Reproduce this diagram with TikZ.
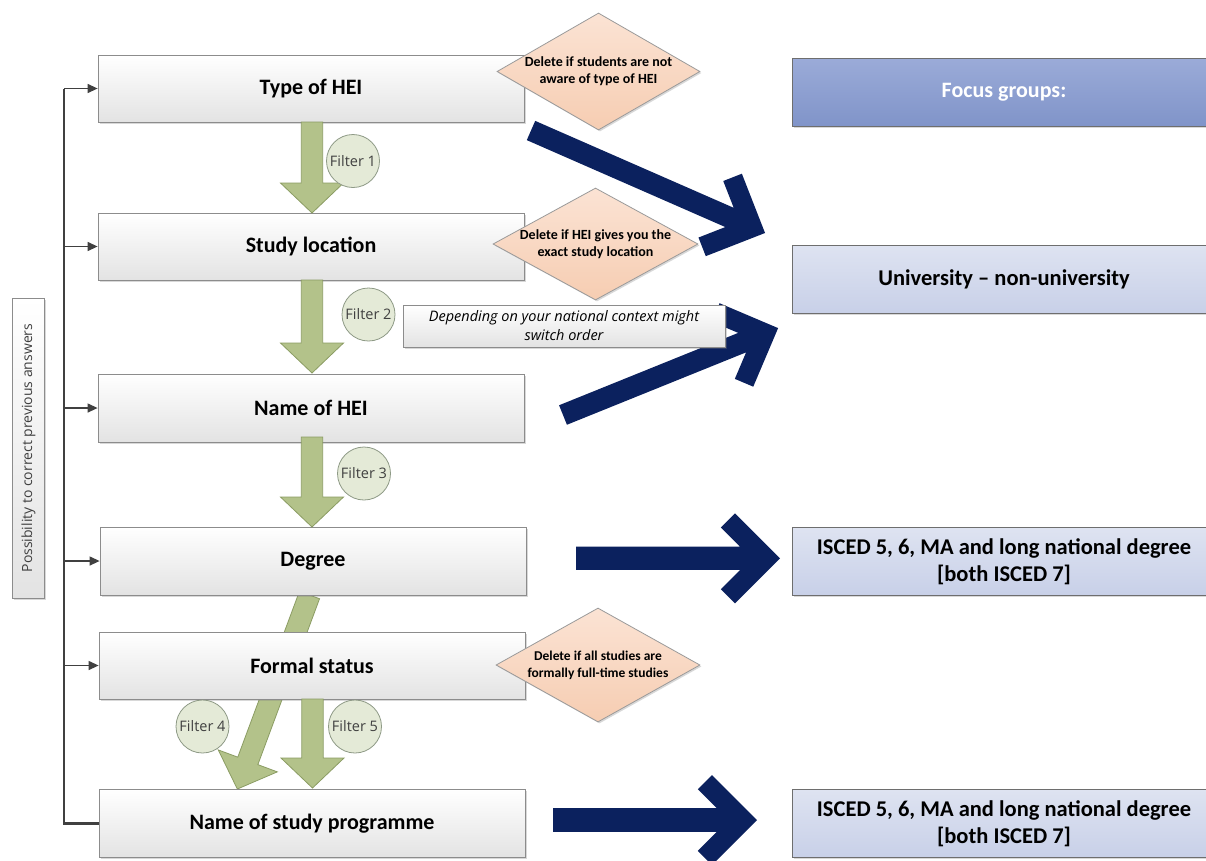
\documentclass[tikz,border=0pt]{standalone}
\usepackage{fontspec}
\setmainfont{Carlito}
\newfontfamily\lightfont{Open Sans}
\usetikzlibrary{shapes.geometric,arrows.meta,shadows}
\definecolor{boxline}{HTML}{8C8C8C}
\definecolor{boxbot}{HTML}{E3E3E3}
\definecolor{peachtop}{HTML}{FBE3D4}
\definecolor{peachbot}{HTML}{F6CDB2}
\definecolor{peachline}{HTML}{9A9A9A}
\definecolor{greenf}{HTML}{B3C28A}
\definecolor{greenl}{HTML}{8B9C63}
\definecolor{circf}{HTML}{E4EAD7}
\definecolor{circl}{HTML}{8E9A86}
\definecolor{blueAtop}{HTML}{9BABD8}
\definecolor{blueAbot}{HTML}{8094C9}
\definecolor{blueBtop}{HTML}{DEE3F1}
\definecolor{blueBbot}{HTML}{C8D0E8}
\definecolor{blueline}{HTML}{6E6E6E}
\definecolor{railc}{HTML}{404040}
\definecolor{navy}{HTML}{0B215E}
\pgfdeclarelayer{bg}
\pgfsetlayers{bg,main}
\newcommand\navyarr[5]{%
  \begin{scope}[shift={#1},rotate=#2]
    \fill[navy] (0,-#4) -- ({#3-28.28-#4},-#4) -- ({#3-#5-14.14},{14.14-#5})
      -- ({#3-#5},-#5) -- (#3,0) -- ({#3-#5},#5) -- ({#3-#5-14.14},{#5-14.14})
      -- ({#3-28.28-#4},#4) -- (0,#4) -- cycle;
  \end{scope}}
\newcommand\greenarr[3]{%
  \begin{scope}[shift={#1},rotate=#2]
    \filldraw[fill=greenf,draw=greenl,line width=0.8pt,line join=miter]
      (0,-10.7) -- ({#3-30},-10.7) -- ({#3-30},-31.5) -- (#3,0)
      -- ({#3-30},31.5) -- ({#3-30},10.7) -- (0,10.7) -- cycle;
  \end{scope}}
\begin{document}
\begin{tikzpicture}[x=1pt,y=-1pt,
  shad/.style={drop shadow={shadow xshift=1.5pt,shadow yshift=-1.5pt,opacity=0.3}},
  mbox/.style={draw=boxline, line width=0.8pt, top color=white, bottom color=boxbot,
    minimum width=426pt, minimum height=67pt, inner sep=0pt, shad,
    font=\bfseries\fontsize{22}{26}\selectfont},
  dia/.style={shape=diamond, draw=peachline, line width=0.8pt, top color=peachtop,
    bottom color=peachbot, inner sep=0pt, align=center, shad,
    font=\bfseries\fontsize{14}{17}\selectfont},
  note/.style={draw=boxline, line width=0.8pt, top color=white, bottom color=boxbot,
    minimum width=322pt, minimum height=42pt, inner sep=0pt, align=center, shad,
    font=\lightfont\itshape\fontsize{14.5}{19}\selectfont},
  circ/.style={circle, draw=circl, line width=0.8pt, fill=circf, minimum size=53pt,
    inner sep=0pt, text=black!75, font=\lightfont\fontsize{14.5}{16}\selectfont},
  rboxA/.style={draw=blueline, line width=0.8pt, top color=blueAtop, bottom color=blueAbot,
    minimum width=424pt, minimum height=68pt, inner sep=0pt, align=center, shad,
    text=white, font=\bfseries\fontsize{22}{27}\selectfont},
  rboxB/.style={draw=blueline, line width=0.8pt, top color=blueBtop, bottom color=blueBbot,
    minimum width=424pt, minimum height=68pt, inner sep=0pt, align=center, shad,
    font=\bfseries\fontsize{22.5}{27}\selectfont},
  rail/.style={draw=railc, line width=2.6pt},
  branch/.style={draw=railc, line width=1.3pt, -{Triangle[length=10pt,width=9pt]}}
]
\useasboundingbox (0,0) rectangle (1206,860);
\begin{pgfonlayer}{bg}
  \fill[white] (0,0) rectangle (1206,860);
\end{pgfonlayer}

% main question boxes
\node[mbox] (t1) at (311,88.5) {Type of HEI};
\node[mbox] (t2) at (311,246.5) {Study location};
\node[mbox, minimum height=68pt] (t3) at (311,408) {Name of HEI};
\node[mbox, minimum height=68pt] (t4) at (313,561) {Degree};
\node[mbox] (t5) at (312,665.5) {Formal status};
\node[mbox, minimum height=68pt] (t6) at (312,823.5) {Name of study programme};

% side label
\node[draw=boxline, line width=0.8pt, top color=white, bottom color=boxbot, shad,
  rotate=90, minimum width=300pt, minimum height=32pt, inner sep=0pt,
  text=railc, font=\lightfont\fontsize{14}{16}\selectfont] (poss) at (28.5,448)
  {Possibility to correct previous answers};

% rail with branches
\coordinate (rail) at (64,0);
\draw[rail] (t1.west -| rail) -- (t6.west -| rail) -- (t6.west);
\foreach \n in {t1,t2,t3,t4,t5} \draw[branch] (\n.west -| rail) -- (\n.west);

% condition diamonds and note
\node[dia, minimum width=203pt, minimum height=117pt, aspect=1.73] (d1) at (598.5,71.5)
  {Delete if students are not\\aware of type of HEI};
\node[dia, minimum width=205pt, minimum height=112pt, aspect=1.83] (d2) at (595.5,244)
  {Delete if HEI gives you the\\exact study location};
\node[dia, minimum width=204pt, minimum height=114pt, aspect=1.79,
  font=\bfseries\fontsize{13.5}{17}\selectfont] (d3) at (598,665)
  {Delete if all studies are\\formally full-time studies};
\node[note] (nt) at (564,326) {Depending on your national context might\\switch order};

% focus group boxes
\node[rboxA] (r1) at (1004,92) {Focus groups:};
\node[rboxB] (r2) at (1004,279) {University -- non-university};
\node[rboxB] (r3) at (1004,561.5) {ISCED 5, 6, MA and long national degree\\{[both ISCED 7]}};
\node[rboxB] (r4) at (1004,823.5) {ISCED 5, 6, MA and long national degree\\{[both ISCED 7]}};

% big navy arrows and diagonal filter arrow (behind)
\coordinate (a1s) at (531,130.5);
\coordinate (a3s) at (563,415);
\coordinate (a4s) at (576,558.3);
\coordinate (a6s) at (553,820);
\coordinate (g4s) at (309.5,595);
\begin{pgfonlayer}{bg}
  \navyarr{(a1s)}{-23.65}{255.5}{10.5}{45}
  \navyarr{(a3s)}{22}{232}{10.5}{45}
  \navyarr{(a4s)}{0}{204}{11.6}{45}
  \navyarr{(a6s)}{0}{204}{11.8}{45}
  \greenarr{(g4s)}{-110.4}{207}
\end{pgfonlayer}

% vertical filter arrows
\coordinate (g1s) at (312,122);
\coordinate (g2s) at (312,280);
\coordinate (g3s) at (312,437);
\coordinate (g5s) at (312.5,699);
\greenarr{(g1s)}{-90}{91}
\greenarr{(g2s)}{-90}{93}
\greenarr{(g3s)}{-90}{90}
\greenarr{(g5s)}{-90}{89}

% filter circles
\node[circ] (f1) at (353,161) {Filter 1};
\node[circ] (f2) at (368.5,314.5) {Filter 2};
\node[circ] (f3) at (364,473.5) {Filter 3};
\node[circ] (f4) at (202.5,726.5) {Filter 4};
\node[circ] (f5) at (355,726.5) {Filter 5};
\end{tikzpicture}
\end{document}
